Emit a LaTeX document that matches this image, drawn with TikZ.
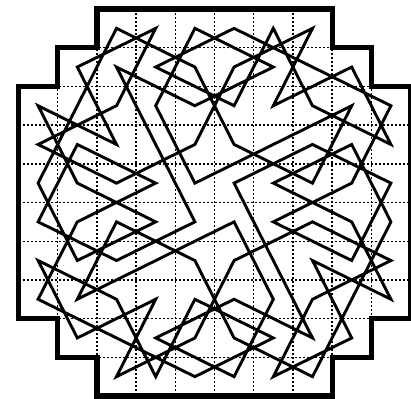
\documentclass[tikz,border=0pt]{standalone}
\begin{document}
\begin{tikzpicture}[x=0.05cm,y=-0.05cm,
  tour/.style={line width=0.145cm, line join=miter, miter limit=4},
  gridline/.style={line width=0.07cm, dash pattern=on 0.1cm off 0.1cm},
  rim/.style={line width=0.26cm, line join=miter}]
\useasboundingbox (0,0) rectangle (411,399);
\fill[white] (0,0) rectangle (411,399);
\begin{scope}[shift={(18.5,9)}, x={(39.2*0.05cm,0)}, y={(0,-38.7*0.05cm)}]
  \path[clip] (2,0)--(8,0)--(8,1)--(9,1)--(9,2)--(10,2)--(10,8)--(9,8)--(9,9)--(8,9)--(8,10)--(2,10)--(2,9)--(1,9)--(1,8)--(0,8)--(0,2)--(1,2)--(1,1)--(2,1)--cycle;
  \foreach \k in {1,...,9} {
    \draw[gridline] (\k,0) -- (\k,10);
    \draw[gridline] (0,\k) -- (10,\k);
  }
\end{scope}
\begin{scope}[shift={(18.5,9)}, x={(39.2*0.05cm,0)}, y={(0,-38.7*0.05cm)}]
  \foreach \c in {0,...,9} \foreach \r in {0,...,9} {
    \coordinate (p-\c-\r) at (\c+0.5,\r+0.5);
  }
  \draw[tour] (p-2-0) -- (p-1-2) -- (p-0-4) -- (p-1-6) -- (p-3-5) -- (p-1-4) -- (p-0-2) -- (p-2-3) -- (p-1-1) -- (p-3-0) -- (p-2-2) -- (p-0-3) -- (p-2-4) -- (p-4-3) -- (p-5-1) -- (p-7-0) -- (p-6-2) -- (p-8-1) -- (p-9-3) -- (p-7-2) -- (p-6-0) -- (p-5-2) -- (p-3-1) -- (p-5-0) -- (p-7-1) -- (p-9-2) -- (p-8-4) -- (p-6-5) -- (p-8-6) -- (p-9-4) -- (p-7-3) -- (p-5-4) -- (p-6-6) -- (p-7-8) -- (p-5-7) -- (p-3-8) -- (p-5-9) -- (p-6-7) -- (p-5-5) -- (p-3-6) -- (p-1-7) -- (p-2-5) -- (p-4-6) -- (p-5-8) -- (p-7-9) -- (p-8-7) -- (p-9-5) -- (p-8-3) -- (p-6-4) -- (p-8-5) -- (p-9-7) -- (p-7-6) -- (p-8-8) -- (p-6-9) -- (p-7-7) -- (p-9-6) -- (p-7-5) -- (p-5-6) -- (p-4-8) -- (p-2-9) -- (p-3-7) -- (p-1-8) -- (p-0-6) -- (p-2-7) -- (p-3-9) -- (p-4-7) -- (p-6-8) -- (p-4-9) -- (p-2-8) -- (p-0-7) -- (p-1-5) -- (p-3-4) -- (p-1-3) -- (p-0-5) -- (p-2-6) -- (p-4-5) -- (p-3-3) -- (p-2-1) -- (p-4-2) -- (p-6-1) -- (p-4-0) -- (p-3-2) -- (p-4-4) -- (p-6-3) -- (p-8-2) -- (p-7-4) -- (p-5-3) -- (p-4-1) -- cycle;
  \draw[rim] (2,0)--(8,0)--(8,1)--(9,1)--(9,2)--(10,2)--(10,8)--(9,8)--(9,9)--(8,9)--(8,10)--(2,10)--(2,9)--(1,9)--(1,8)--(0,8)--(0,2)--(1,2)--(1,1)--(2,1)--cycle;
\end{scope}
\end{tikzpicture}
\end{document}
